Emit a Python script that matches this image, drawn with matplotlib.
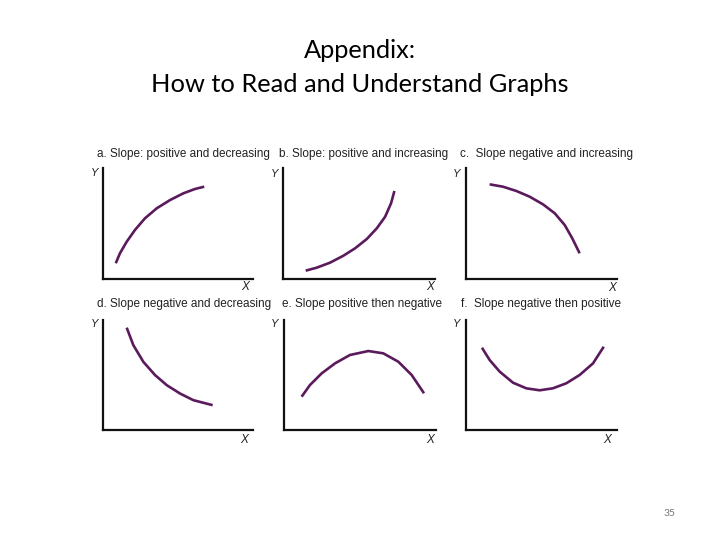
import matplotlib.pyplot as plt

W, H = 720, 540

# curve samples, in 0-10 axis units
a_x = [0.85, 1.13, 1.58, 2.13, 2.80, 3.58, 4.47, 5.36, 6.13, 6.75]
a_y = [1.38, 2.28, 3.33, 4.39, 5.45, 6.35, 7.10, 7.71, 8.10, 8.31]
b_x = [1.47, 2.20, 3.07, 3.95, 4.72, 5.49, 6.15, 6.70, 7.09, 7.31]
b_y = [0.71, 0.98, 1.43, 2.06, 2.73, 3.57, 4.54, 5.59, 6.81, 7.92]
c_x = [1.55, 2.43, 3.32, 4.21, 5.09, 5.87, 6.53, 7.03, 7.52]
c_y = [8.52, 8.31, 7.92, 7.40, 6.71, 5.90, 4.84, 3.64, 2.28]
d_x = [1.56, 2.00, 2.67, 3.45, 4.23, 5.11, 6.00, 7.29]
d_y = [9.30, 7.71, 6.18, 4.97, 4.05, 3.29, 2.68, 2.22]
e_x = [1.14, 1.69, 2.46, 3.34, 4.32, 5.53, 6.51, 7.50, 8.38, 9.19]
e_y = [3.03, 4.09, 5.15, 6.06, 6.82, 7.18, 6.97, 6.21, 5.00, 3.34]
f_x = [1.04, 1.55, 2.22, 3.10, 3.98, 4.87, 5.75, 6.64, 7.52, 8.41, 9.12]
f_y = [7.48, 6.36, 5.30, 4.30, 3.79, 3.61, 3.79, 4.25, 5.00, 6.06, 7.57]

titles = [
    "a. Slope: positive and decreasing",
    "b. Slope: positive and increasing",
    "c.  Slope negative and increasing",
    "d. Slope negative and decreasing",
    "e. Slope positive then negative",
    "f.  Slope negative then positive",
]
curves = [(a_x, a_y), (b_x, b_y), (c_x, c_y), (d_x, d_y), (e_x, e_y), (f_x, f_y)]

# layout in pixels: axes box (left, bottom, width, height)
boxes = [
    (103, 278.5, 150, 110.5), (283.3, 278.5, 152, 110.5), (466.3, 278.5, 150.7, 110.5),
    (103.3, 429.5, 150, 109.5), (284.3, 430, 152, 110), (466.3, 430, 150.7, 110),
]
title_pos = [(97, 154), (279, 154), (460, 154), (97, 304), (282, 304), (461, 304)]
y_pos = [(95, 173), (275, 174), (457, 174), (95, 324), (275, 324), (457, 324)]
x_pos = [(245, 287), (430, 287), (612, 288), (244, 440), (430, 440), (607, 440)]

CURVE = "#5a1a5c"


def fx(px):
    return px / W


def fy(py):
    return 1 - py / H


fig = plt.figure(figsize=(7.2, 5.4), dpi=100)

fig.text(0.5, fy(50), "Appendix:", ha="center", va="center",
         family="Lato", fontsize=18.3)
fig.text(0.5, fy(85), "How to Read and Understand Graphs", ha="center", va="center",
         family="Lato", fontsize=18.3)
fig.text(fx(670), fy(514), "35", ha="center", va="center",
         family="Lato", fontsize=7.5, color="#777777")

for i, (l, b, w, h) in enumerate(boxes):
    ax = fig.add_axes([fx(l), fy(b), w / W, h / H])
    x, y = curves[i]
    ax.plot(x, y, color=CURVE, lw=1.9, solid_capstyle="butt", solid_joinstyle="round")
    ax.set_xlim(0, 10)
    ax.set_ylim(0, 10)
    for side in ("top", "right"):
        ax.spines[side].set_visible(False)
    for side in ("left", "bottom"):
        ax.spines[side].set_linewidth(1.6)
        ax.spines[side].set_color("#111111")
    ax.set_xticks([])
    ax.set_yticks([])
    ax.patch.set_alpha(0)

    tx, ty = title_pos[i]
    fig.text(fx(tx), fy(ty), titles[i], ha="left", va="center",
             family="Liberation Sans", fontsize=8.5, color="#222222")
    yx, yy = y_pos[i]
    fig.text(fx(yx), fy(yy), "Y", ha="center", va="center",
             family="Liberation Sans", fontsize=8, style="italic", color="#222222")
    xx, xy = x_pos[i]
    fig.text(fx(xx), fy(xy), "X", ha="center", va="center",
             family="Liberation Sans", fontsize=8.5, style="italic", color="#222222")

fig.savefig("out.png", dpi=100)
